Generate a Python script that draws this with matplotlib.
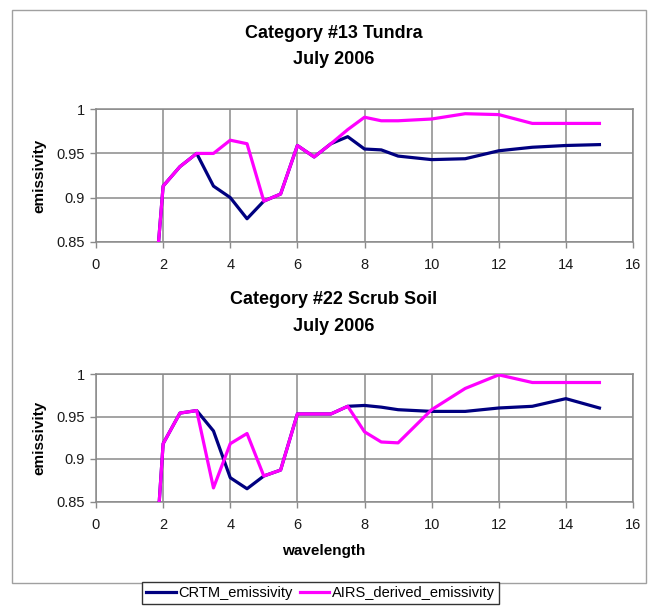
import matplotlib
matplotlib.use("Agg")
import matplotlib.pyplot as plt
from matplotlib.lines import Line2D
from matplotlib.patches import Rectangle

plt.rcParams['font.family'] = ['Liberation Sans', 'DejaVu Sans']

# ---- data ----
wavelength = [1.8, 2, 2.5, 3, 3.5, 4, 4.5, 5, 5.5, 6, 6.5, 7, 7.5, 8, 8.5, 9, 10, 11, 12, 13, 14, 15]

tundra_crtm = [0.82, 0.913, 0.935, 0.950, 0.913, 0.900, 0.876, 0.896, 0.904, 0.959, 0.946, 0.961,
               0.969, 0.955, 0.954, 0.947, 0.943, 0.944, 0.953, 0.957, 0.959, 0.960]
tundra_airs = [0.82, 0.913, 0.935, 0.950, 0.950, 0.965, 0.961, 0.896, 0.904, 0.959, 0.946, 0.961,
               0.977, 0.991, 0.987, 0.987, 0.989, 0.995, 0.994, 0.984, 0.984, 0.984]

scrub_crtm = [0.80, 0.918, 0.954, 0.957, 0.933, 0.878, 0.865, 0.880, 0.887, 0.953, 0.953, 0.953,
              0.962, 0.963, 0.961, 0.958, 0.956, 0.956, 0.960, 0.962, 0.971, 0.960]
scrub_airs = [0.80, 0.918, 0.954, 0.957, 0.866, 0.918, 0.930, 0.880, 0.887, 0.953, 0.953, 0.953,
              0.962, 0.932, 0.920, 0.919, 0.958, 0.983, 0.999, 0.990, 0.990, 0.990]

titles = ["Category #13 Tundra\nJuly 2006", "Category #22 Scrub Soil\nJuly 2006"]
x_ticks = [0, 2, 4, 6, 8, 10, 12, 14, 16]
y_ticks = [0.85, 0.9, 0.95, 1.0]
y_tick_labels = ["0.85", "0.9", "0.95", "1"]
series_names = ["CRTM_emissivity", "AIRS_derived_emissivity"]

# ---- styling ----
W, H = 648, 608
NAVY = "#000080"
MAGENTA = "#FF00FF"
GRID = "#8a8a8a"

fig = plt.figure(figsize=(W / 100, H / 100), dpi=100)
fig.patch.set_facecolor("white")

# outer chart frame
fig.patches.append(Rectangle((12 / W, 1 - 583 / H), (646 - 12) / W, (583 - 10) / H,
                             transform=fig.transFigure, fill=False,
                             edgecolor="#a0a0a0", lw=1.0, zorder=0))


def px_axes(left, top, right, bottom):
    return fig.add_axes([left / W, 1 - bottom / H, (right - left) / W, (bottom - top) / H])


def style(ax):
    ax.set_xlim(0, 16)
    ax.set_ylim(0.85, 1.0)
    ax.set_xticks(x_ticks)
    ax.set_xticklabels([str(t) for t in x_ticks])
    ax.set_yticks(y_ticks)
    ax.set_yticklabels(y_tick_labels)
    ax.grid(True, color=GRID, lw=1.1)
    ax.set_axisbelow(True)
    for s in ax.spines.values():
        s.set_color(GRID)
        s.set_linewidth(1.1)
    ax.tick_params(axis="both", direction="out", length=4, width=1, color=GRID,
                   labelsize=10.5, labelcolor="#1a1a1a")
    ax.tick_params(axis="x", pad=8)
    ax.tick_params(axis="y", pad=4)


ax1 = px_axes(96, 109.3, 633, 241.7)
ax2 = px_axes(96, 374, 633, 501.5)

for ax, crtm, airs in [(ax1, tundra_crtm, tundra_airs), (ax2, scrub_crtm, scrub_airs)]:
    style(ax)
    ax.plot(wavelength, crtm, color=NAVY, lw=2.3, solid_joinstyle="round", zorder=3)
    ax.plot(wavelength, airs, color=MAGENTA, lw=2.3, solid_joinstyle="round", zorder=4)
    ax.set_ylabel("emissivity", fontsize=11, fontweight="bold")
    ax.yaxis.set_label_coords(-0.092, 0.5)

ax2.set_xlabel("wavelength", fontsize=11, fontweight="bold")
ax2.xaxis.set_label_coords(0.425, -0.33)

# titles
fig.text(334 / W, 1 - 46.5 / H, titles[0], ha="center", va="center", fontsize=13,
         fontweight="bold", linespacing=1.7)
fig.text(334 / W, 1 - 313 / H, titles[1], ha="center", va="center", fontsize=13,
         fontweight="bold", linespacing=1.7)

# legend
handles = [Line2D([], [], color=NAVY, lw=2.3), Line2D([], [], color=MAGENTA, lw=2.3)]
leg = fig.legend(handles, series_names, loc="center", bbox_to_anchor=(320.5 / W, 1 - 593 / H),
                 ncol=2, fontsize=10.5, frameon=True, fancybox=False, edgecolor="#333333",
                 handlelength=2.0, handletextpad=0.15, columnspacing=0.55,
                 borderpad=0.3, borderaxespad=0)
leg.get_frame().set_linewidth(1.0)
leg.get_frame().set_facecolor("white")
leg.get_frame().set_alpha(1)

fig.savefig("out.png", dpi=100, facecolor="white")
